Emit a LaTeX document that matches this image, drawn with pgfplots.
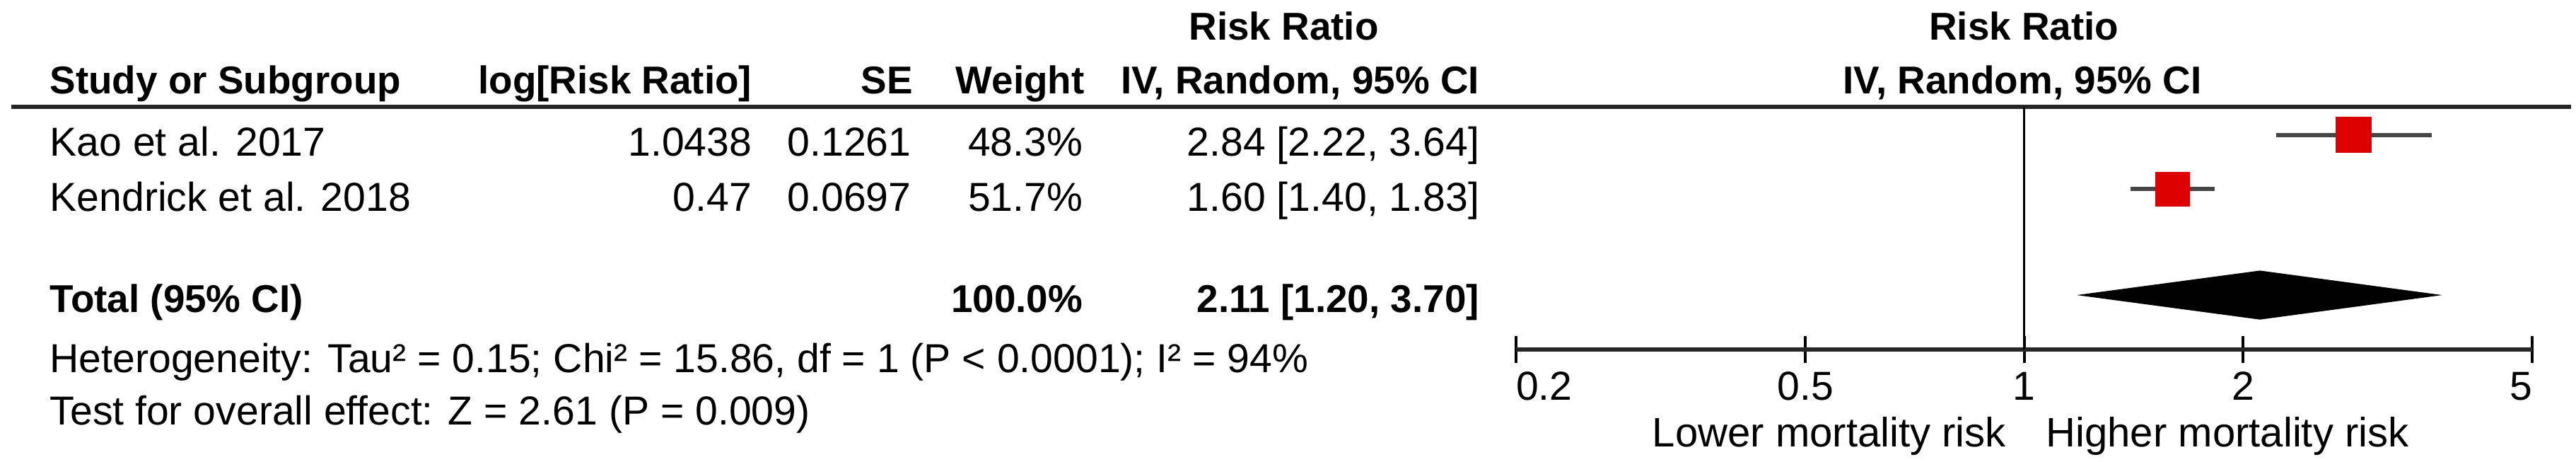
\documentclass[border=0pt]{standalone}
\usepackage{pgfplots}
\pgfplotsset{compat=1.18}
\usepackage{fontspec}
\setmainfont{Liberation Sans}
\definecolor{fpred}{RGB}{220,0,0}
\definecolor{cigray}{RGB}{70,70,70}
\newcommand{\rg}{\fontsize{12.3}{14}\selectfont}
\newcommand{\fv}{\fontsize{12.5}{14}\selectfont}
\begin{document}
\fontsize{11.8}{14}\selectfont
\begin{tikzpicture}[every node/.style={inner sep=0pt, font=\fontsize{11.8}{14}\selectfont}]
\begin{scope}[x=0.5pt,y=-0.5pt]
\useasboundingbox (0,0) rectangle (1568,281);
% header line 1
\node[anchor=base] at (781.5,24.4) {\bfseries Risk Ratio};
\node[anchor=base] at (1232,24.4) {\bfseries Risk Ratio};
% header line 2
\node[anchor=base west] at (30,57) {\bfseries Study or Subgroup};
\node[anchor=base east] at (458,57) {\bfseries log[Risk Ratio]};
\node[anchor=base east] at (556,57) {\bfseries SE};
\node[anchor=base east] at (660.5,57) {\bfseries Weight};
\node[anchor=base east] at (900.8,57) {\bfseries IV, Random, 95\% CI};
\node[anchor=base] at (1231,57) {\bfseries IV, Random, 95\% CI};
\draw[line width=1.4pt, black!85] (7,65) -- (1565,65);
% rows
\node[anchor=base west] at (30,94.7) {\rg Kao et al. 2017};
\node[anchor=base east] at (458,94.7) {\rg 1.0438};
\node[anchor=base east] at (555,94.7) {\rg 0.1261};
\node[anchor=base east] at (659.4,94.7) {\rg 48.3\%};
\node[anchor=base east] at (900.8,94.7) {\rg 2.84 [2.22, 3.64]};
\node[anchor=base west] at (30,128.4) {\rg Kendrick et al. 2018};
\node[anchor=base east] at (458,128.4) {\rg 0.47};
\node[anchor=base east] at (555,128.4) {\rg 0.0697};
\node[anchor=base east] at (659.4,128.4) {\rg 51.7\%};
\node[anchor=base east] at (900.8,128.4) {\rg 1.60 [1.40, 1.83]};
% total
\node[anchor=base west] at (30,190) {\bfseries Total (95\% CI)};
\node[anchor=base east] at (659.4,190) {\bfseries 100.0\%};
\node[anchor=base east] at (900.8,190) {\bfseries 2.11 [1.20, 3.70]};
\node[anchor=base west] at (30,226.8) {\rg Heterogeneity: Tau² = 0.15; Chi² = 15.86, df = 1 (P < 0.0001); I² = 94\%};
\node[anchor=base west] at (30,258.3) {\rg Test for overall effect: Z = 2.61 (P = 0.009)};
% favour labels
\node[anchor=base east] at (1221.5,272) {\fv Lower mortality risk};
\node[anchor=base west] at (1245,272) {\fv Higher mortality risk};
\end{scope}
\begin{axis}[
  at={(461.4pt,-106.3pt)}, anchor=south west,
  scale only axis, width=309.3pt, height=73.8pt,
  xmode=log, xmin=0.2, xmax=5,
  ymin=-212.6, ymax=-65,
  axis y line=none, axis x line=bottom,
  x axis line style={-, line width=1.4pt, black!85},
  xtick={0.2,0.5,1,2,5},
  xticklabels={\makebox[0pt][l]{0.2},\mbox{0.5},\mbox{1},\mbox{2},\makebox[0pt][r]{5}},
  minor xtick={}, xminorticks=false,
  tick align=center, major tick length=8.35pt,
  tick style={line width=0.8pt, black},
  xticklabel style={anchor=north, inner sep=0pt, yshift=-2.5pt, font=\fontsize{12.3}{14}\selectfont},
  clip=false,
]
\addplot[black, line width=0.7pt] coordinates {(1,-65) (1,-212.6)};
\addplot[cigray, line width=1.3pt] coordinates {(2.22,-82) (3.64,-82)};
\addplot[cigray, line width=1.3pt] coordinates {(1.40,-115) (1.83,-115)};
\addplot[only marks, mark=square*, mark size=5.25pt, mark options={draw=fpred, fill=fpred}] coordinates {(2.84,-82)};
\addplot[only marks, mark=square*, mark size=5.1pt, mark options={draw=fpred, fill=fpred}] coordinates {(1.60,-115)};
\addplot[fill=black, draw=black] coordinates {(1.20,-179.5) (2.11,-165) (3.70,-179.5) (2.11,-194)} -- cycle;
\end{axis}
\end{tikzpicture}
\end{document}
